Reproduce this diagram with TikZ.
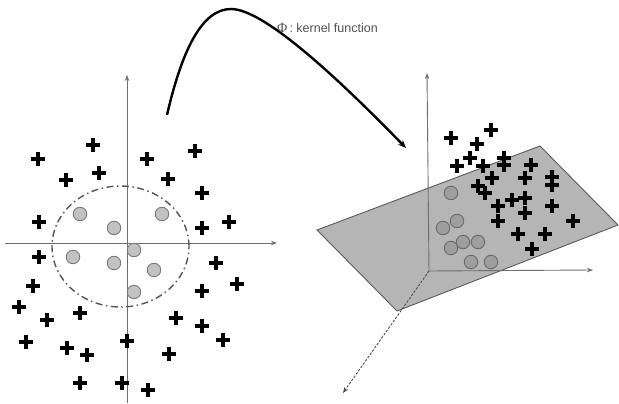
\documentclass[tikz,border=0pt]{standalone}
\usepackage{fontspec}
\setmainfont{Liberation Sans}
\newfontfamily\phifont{Liberation Serif}
\usetikzlibrary{arrows.meta,shapes.geometric}
\definecolor{axisgray}{HTML}{6E6E6E}
\definecolor{ringgray}{HTML}{555555}
\definecolor{dotfill}{HTML}{C2C2C2}
\definecolor{dotline}{HTML}{7A7A7A}
\definecolor{dotfillB}{HTML}{9E9E9E}
\definecolor{dotlineB}{HTML}{6A6A6A}
\definecolor{planefill}{HTML}{B5B5B5}
\definecolor{planeline}{HTML}{5A5A5A}
\definecolor{labelgray}{HTML}{505050}
\tikzset{
  plusmark/.style={inner sep=0pt, minimum size=13pt},
  plusline/.style={draw=black, line width=3.2pt},
  dotA/.style={circle, draw=dotline, fill=dotfill, line width=0.9pt, minimum size=13.5pt, inner sep=0pt},
  dotB/.style={circle, draw=dotlineB, fill=dotfillB, line width=0.9pt, minimum size=13.5pt, inner sep=0pt},
  axisline/.style={draw=axisgray, line width=0.9pt, -{Stealth[length=6pt,width=4.5pt]}},
  kernelarrow/.style={draw=black, line width=2.4pt, -{Stealth[length=8pt,width=6.5pt]}},
  ringstyle/.style={ellipse, draw=ringgray, line width=1.4pt, dash pattern=on 7pt off 3.5pt on 1.5pt off 3.5pt, minimum width=137pt, minimum height=121pt, inner sep=0pt},
}
\begin{document}
\begin{tikzpicture}[x=1pt,y=-1pt]
\useasboundingbox (0,0) rectangle (619,404);
% ---------- left panel ----------
\coordinate (LxA) at (5,243);
\coordinate (LxB) at (277,243);
\coordinate (LyA) at (127,403);
\coordinate (LyB) at (127,75);
\draw[axisline] (LxA) -- (LxB);
\draw[axisline] (LyA) -- (LyB);
\node[ringstyle] (ring) at (120.5,246.5) {};
\foreach \n/\px/\py in {1/80/214, 2/114/228, 3/162/214, 4/73/257, 5/114/263, 6/134/250, 7/154/270, 8/134/292}
  \node[dotA] (la\n) at (\px,\py) {};
\foreach \n/\px/\py in {1/93/145, 2/38/159, 3/147/159, 4/195/151, 5/66/180, 6/99/173, 7/168/179, 8/202/193,
  9/39/222, 10/202/228, 11/229/222, 12/39/257, 13/216/263, 14/33/286, 15/202/291, 16/237/284,
  17/19/307, 18/47/320, 19/80/313, 20/176/318, 21/202/326, 22/26/342, 23/127/341, 24/223/340,
  25/67/348, 26/87/355, 27/169/354, 28/80/383, 29/122/383, 30/148/390}
  {\node[plusmark] (lp\n) at (\px,\py) {};
   \draw[plusline] (lp\n.north) -- (lp\n.south) (lp\n.west) -- (lp\n.east);}
% ---------- kernel arrow ----------
\coordinate (KA) at (167,115);
\coordinate (KP) at (231,9);
\coordinate (KB) at (406,148);
\draw[kernelarrow] (KA) .. controls (182,50) and (202,9) .. (KP) .. controls (262,9) and (330,70) .. (KB);
\node[anchor=west, text=labelgray, font=\fontsize{12.5}{14}\selectfont, inner sep=0pt] (klabel) at (277,28) {{\phifont\fontsize{14}{14}\selectfont Φ}\,:\ kernel function};
% ---------- right panel ----------
\coordinate (P1) at (317,230);
\coordinate (P2) at (540,146);
\coordinate (P3) at (618,225);
\coordinate (P4) at (397,311);
\filldraw[fill=planefill, draw=planeline, line width=0.9pt] (P1) -- (P2) -- (P3) -- (P4) -- cycle;
\coordinate (O) at (429,271);
\coordinate (RyB) at (427,73);
\coordinate (RxB) at (593,270);
\coordinate (RzB) at (343,393);
\draw[axisline] (O) -- (RyB);
\draw[axisline] (O) -- (RxB);
\draw[axisline, draw=axisgray!70!black, dash pattern=on 2.5pt off 1.5pt] (O) -- (RzB);
\foreach \n/\px/\py in {1/451/193, 2/457/221, 3/443/228, 4/451/248, 5/463/242, 6/478/242, 7/471/262, 8/491/262}
  \node[dotB] (rc\n) at (\px,\py) {};
\foreach \n/\px/\py in {1/451/138, 2/491/130, 3/477/144, 4/470/158, 5/457/166, 6/483/166, 7/504/158, 8/504/165,
  9/531/165, 10/492/178, 11/478/186, 12/485/193, 13/525/178, 14/552/177, 15/552/185, 16/512/200,
  17/525/198, 18/498/206, 19/525/213, 20/552/206, 21/498/221, 22/573/221, 23/518/234, 24/545/234, 25/532/249}
  {\node[plusmark] (rp\n) at (\px,\py) {};
   \draw[plusline] (rp\n.north) -- (rp\n.south) (rp\n.west) -- (rp\n.east);}
\end{tikzpicture}
\end{document}
